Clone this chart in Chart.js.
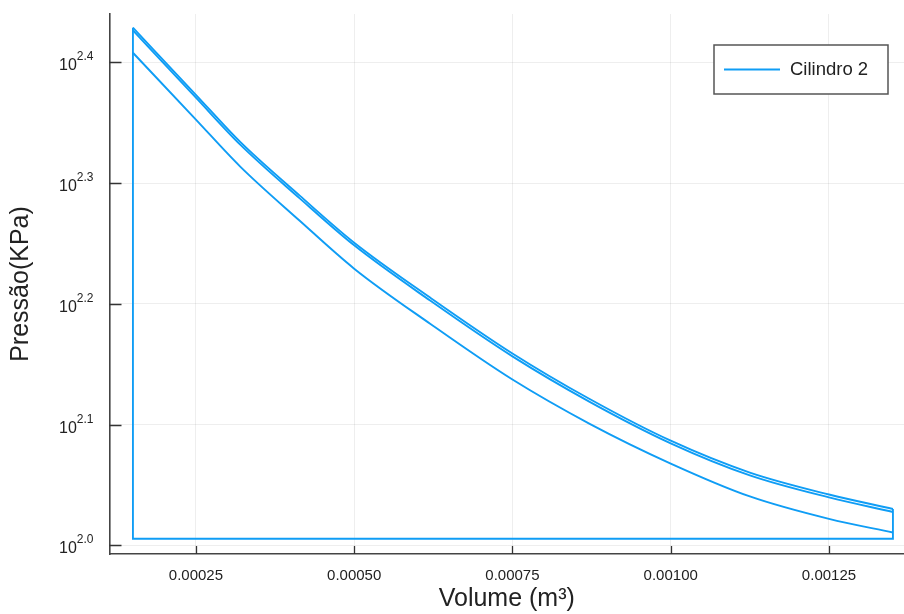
<!DOCTYPE html>
<html>
<head>
<meta charset="utf-8">
<script src="https://cdn.jsdelivr.net/npm/chart.js@4.4.1/dist/chart.umd.min.js"></script>
<style>
  html, body { margin: 0; padding: 0; background: #fff; }
  #wrap { width: 904px; height: 614px; position: relative; }
</style>
</head>
<body>
<div id="wrap"><canvas id="chart"></canvas></div>
<script>
// Volume (m³) nos pontos lidos ao longo das curvas
const volumes = [0.0001505, 0.00025, 0.00032, 0.000414, 0.0005, 0.00062, 0.00075, 0.000872, 0.001, 0.001125, 0.00125, 0.001351];
// Pressão (kPa) - curva inferior e as duas superiores
const pressaoInferior = [255.8, 225.2, 205.9, 185.7, 169.5, 152.6, 137.2, 126.1, 116.9, 109.8, 105.2, 102.5];
const pressaoSuperiorA = [268.3, 236.1, 215.8, 194.8, 178.1, 160.4, 144.2, 132.2, 122.1, 114.9, 110.2, 107.2];
const pressaoSuperiorB = [266.9, 234.8, 214.7, 193.8, 177.2, 159.5, 143.4, 131.5, 121.5, 114.3, 109.6, 106.6];
const pressaoAtm = 101.3;

const xTicks = [0.00025, 0.0005, 0.00075, 0.001, 0.00125];
const xTickLabels = ['0.00025', '0.00050', '0.00075', '0.00100', '0.00125'];
const yTickExp = ['2.0', '2.1', '2.2', '2.3', '2.4'];

const cor = '#0f9df5';
const fonte = '"Liberation Sans", Arial, sans-serif';

function pontos(ys) {
    return volumes.map((v, i) => ({ x: v, y: ys[i] }));
}

const vMin = volumes[0];
const vMax = volumes[volumes.length - 1];
const contorno = [
    { x: vMax, y: pressaoSuperiorA[pressaoSuperiorA.length - 1] },
    { x: vMax, y: pressaoAtm },
    { x: vMin, y: pressaoAtm },
    { x: vMin, y: pressaoSuperiorA[0] }
];

// Marcas de escala para dentro, rótulos 10^x e legenda (estilo Plots.jl)
const estiloJulia = {
    id: 'estiloJulia',
    afterDraw(chart) {
        const ctx = chart.ctx;
        const area = chart.chartArea;
        const xs = chart.scales.x;
        const ys = chart.scales.y;
        ctx.save();
        ctx.strokeStyle = '#333';
        ctx.lineWidth = 1.3;
        ctx.beginPath();
        xTicks.forEach(v => {
            const px = Math.round(xs.getPixelForValue(v)) + 0.5;
            ctx.moveTo(px, area.bottom);
            ctx.lineTo(px, area.bottom - 8);
        });
        yTickExp.forEach(e => {
            const py = Math.round(ys.getPixelForValue(Math.pow(10, parseFloat(e)))) + 0.5;
            ctx.moveTo(area.left, py);
            ctx.lineTo(area.left + 12, py);
        });
        ctx.stroke();

        // rótulos do eixo y
        ctx.fillStyle = '#222';
        ctx.textAlign = 'left';
        ctx.textBaseline = 'alphabetic';
        const direita = area.left - 16;
        yTickExp.forEach(e => {
            const py = ys.getPixelForValue(Math.pow(10, parseFloat(e)));
            ctx.font = '12px ' + fonte;
            const w2 = ctx.measureText(e).width;
            ctx.font = '16px ' + fonte;
            const w1 = ctx.measureText('10').width;
            ctx.fillText('10', direita - w2 - w1, py + 8);
            ctx.font = '12px ' + fonte;
            ctx.fillText(e, direita - w2, py - 2);
        });

        // legenda
        const lx = 714, ly = 45, lw = 174, lh = 49;
        ctx.fillStyle = '#fff';
        ctx.fillRect(lx, ly, lw, lh);
        ctx.strokeStyle = '#555';
        ctx.lineWidth = 1.5;
        ctx.strokeRect(lx, ly, lw, lh);
        ctx.strokeStyle = cor;
        ctx.lineWidth = 1.8;
        ctx.beginPath();
        ctx.moveTo(lx + 10, ly + 24.5);
        ctx.lineTo(lx + 66, ly + 24.5);
        ctx.stroke();
        ctx.fillStyle = '#222';
        ctx.font = '18.5px ' + fonte;
        ctx.textBaseline = 'middle';
        ctx.fillText(chart.data.datasets[0].label, lx + 76, ly + 25);
        ctx.restore();
    }
};

const comum = {
    showLine: true,
    borderColor: cor,
    borderWidth: 1.9,
    pointRadius: 0,
    fill: false
};

new Chart(document.getElementById('chart'), {
    type: 'scatter',
    data: {
        datasets: [
            Object.assign({ label: 'Cilindro 2', data: pontos(pressaoInferior), cubicInterpolationMode: 'monotone' }, comum),
            Object.assign({ label: 'b', data: pontos(pressaoSuperiorA), cubicInterpolationMode: 'monotone' }, comum),
            Object.assign({ label: 'c', data: pontos(pressaoSuperiorB), cubicInterpolationMode: 'monotone' }, comum),
            Object.assign({ label: 'd', data: contorno, tension: 0 }, comum)
        ]
    },
    options: {
        responsive: true,
        maintainAspectRatio: false,
        animation: false,
        layout: { padding: { top: 14, right: 0, left: 0, bottom: 0 } },
        plugins: {
            legend: { display: false },
            tooltip: { enabled: false }
        },
        scales: {
            x: {
                type: 'linear',
                min: 0.0001135,
                max: 0.0013685,
                afterBuildTicks: s => { s.ticks = xTicks.map(v => ({ value: v })); },
                afterFit: s => { s.height = 60; },
                ticks: {
                    padding: 13,
                    maxRotation: 0,
                    color: '#222',
                    font: { size: 15, family: fonte },
                    callback: v => xTickLabels[xTicks.indexOf(v)]
                },
                grid: { color: 'rgba(0,0,0,0.065)', drawTicks: false },
                border: { color: '#444', width: 1.6 },
                title: {
                    display: true,
                    text: 'Volume (m³)',
                    color: '#222',
                    font: { size: 25, family: fonte },
                    padding: { top: 0, bottom: 0 }
                }
            },
            y: {
                type: 'logarithmic',
                min: 98.39,
                max: 275.4,
                afterBuildTicks: s => { s.ticks = yTickExp.map(e => ({ value: Math.pow(10, parseFloat(e)) })); },
                afterFit: s => { s.width = 109.5; },
                ticks: { display: false },
                grid: { color: 'rgba(0,0,0,0.065)', drawTicks: false },
                border: { color: '#444', width: 1.6 },
                title: {
                    display: true,
                    text: 'Pressão(KPa)',
                    color: '#222',
                    font: { size: 25, family: fonte },
                    padding: { top: 6, bottom: 0 }
                }
            }
        }
    },
    plugins: [estiloJulia]
});
</script>
</body>
</html>
